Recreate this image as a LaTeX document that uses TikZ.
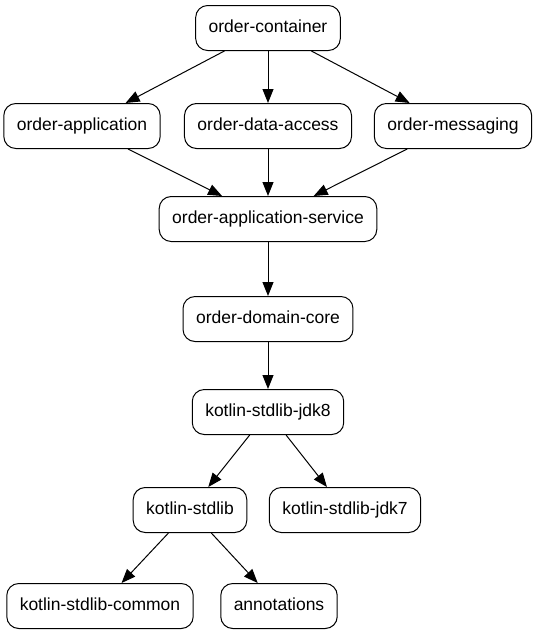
\documentclass[tikz,border=0pt]{standalone}
\usepackage{fontspec}
\setmainfont{Liberation Sans}
\usetikzlibrary{arrows.meta}

\begin{document}
\begin{tikzpicture}[
        x=1pt, y=1pt,
        module/.style={
            rectangle,
            rounded corners=12pt,
            draw,
            fill=white,
            line width=1pt,
            align=center,
            minimum height=45pt,
            text height=12pt,
            text depth=3.5pt,
            inner xsep=13pt,
            font=\fontsize{17.5}{21}\selectfont
        },
        dep/.style={
            -{Triangle[length=14pt,width=11pt]},
            line width=1pt
        }
    ]

        \fill[white] (0,0) rectangle (538,-635);
        \useasboundingbox (0,0) rectangle (538,-635);

        \node[module] (container) at (268,-28) {order-container};
        \node[module] (application) at (82,-126) {order-application};
        \node[module] (dataaccess) at (268,-126) {order-data-access};
        \node[module] (messaging) at (453,-126) {order-messaging};
        \node[module] (appservice) at (268,-219) {order-application-service};
        \node[module] (domaincore) at (268,-319) {order-domain-core};
        \node[module] (jdkeight) at (268,-412) {kotlin-stdlib-jdk8};
        \node[module] (stdlib) at (190,-510) {kotlin-stdlib};
        \node[module] (jdkseven) at (345,-510) {kotlin-stdlib-jdk7};
        \node[module] (common) at (100,-606) {kotlin-stdlib-common};
        \node[module] (annotations) at (279,-606) {annotations};

        \draw[dep] (container) -- (application);
        \draw[dep] (container) -- (dataaccess);
        \draw[dep] (container) -- (messaging);
        \draw[dep] (application) -- (appservice);
        \draw[dep] (dataaccess) -- (appservice);
        \draw[dep] (messaging) -- (appservice);
        \draw[dep] (appservice) -- (domaincore);
        \draw[dep] (domaincore) -- (jdkeight);
        \draw[dep] (jdkeight) -- (stdlib);
        \draw[dep] (jdkeight) -- (jdkseven);
        \draw[dep] (stdlib) -- (common);
        \draw[dep] (stdlib) -- (annotations);

    \end{tikzpicture}
\end{document}
